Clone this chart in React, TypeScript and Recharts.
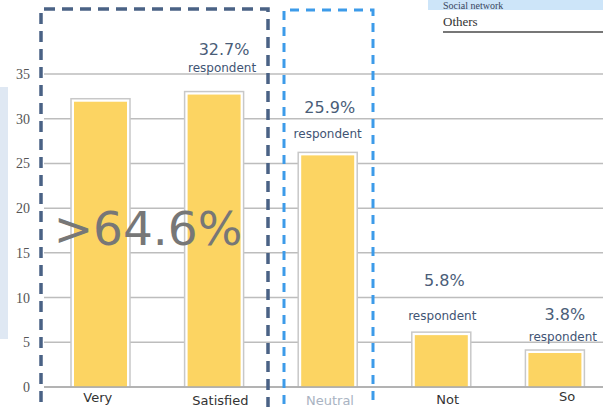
import React from 'react';
import { BarChart, Bar, XAxis, YAxis, CartesianGrid, LabelList } from 'recharts';

const categories = ['Very', 'Satisfied', 'Neutral', 'Not', 'So'];
const values = [31.9, 32.7, 25.9, 5.8, 3.8];
const pctLabels = ['', '32.7%', '25.9%', '5.8%', '3.8%'];
const yTicks = [0, 5, 10, 15, 20, 25, 30, 35];
const unitLabel = 'respondent';
const bigLabel = '>64.6%';
const legendItems = ['Social network', 'Others'];

const data = categories.map((c, i) => ({ name: c, value: values[i], pct: pctLabels[i] }));

// label placement style (offsets relative to bar top / centre)
const labelStyle = [
  { dx: 0, pctUp: 0, respUp: 0 },
  { dx: 10, pctUp: 40, respUp: 23 },
  { dx: 2, pctUp: 42, respUp: 17 },
  { dx: 3, pctUp: 49, respUp: 15 },
  { dx: 10, pctUp: 33, respUp: 12 },
];
const tickStyle = [
  { dx: -3, dy: 15, fill: '#333' },
  { dx: 6, dy: 18, fill: '#333' },
  { dx: 2, dy: 18, fill: '#a9b3c2' },
  { dx: 6, dy: 17, fill: '#333' },
  { dx: 12, dy: 14, fill: '#333' },
];

const BarShape = (props: any) => {
  const { x, y, width, height } = props;
  return (
    <g>
      <rect x={x - 3} y={y - 3} width={width + 6} height={height + 3} fill="#fff" stroke="#c8c8c8" strokeWidth={1.5} />
      <rect x={x} y={y} width={width} height={height} fill="#fcd462" />
    </g>
  );
};

const ValueLabel = (props: any) => {
  const { x, y, width, index } = props;
  const txt = pctLabels[index];
  if (!txt) return null;
  const s = labelStyle[index];
  const cx = x + width / 2 + s.dx;
  return (
    <g>
      <text x={cx} y={y - s.pctUp} textAnchor="middle" fontFamily="DejaVu Sans" fontSize={16} fill="#4a5d78">
        {txt}
      </text>
      <text x={cx - 2} y={y - s.respUp} textAnchor="middle" fontFamily="DejaVu Sans" fontSize={12} fill="#3f5474">
        {unitLabel}
      </text>
    </g>
  );
};

const XTick = (props: any) => {
  const { x, payload, index } = props;
  const s = tickStyle[index] || tickStyle[0];
  return (
    <text x={x + s.dx} y={387 + s.dy} textAnchor="middle" fontFamily="DejaVu Sans" fontSize={13} fill={s.fill}>
      {payload.value}
    </text>
  );
};

const YTick = (props: any) => {
  const { y, payload } = props;
  return (
    <text x={30} y={y + 5} textAnchor="end" fontFamily="Liberation Serif" fontSize={14} fill="#555">
      {payload.value}
    </text>
  );
};

export default function App() {
  return (
    <div style={{ position: 'absolute', left: 0, top: 0, width: 603, height: 407, overflow: 'hidden', background: '#fff' }}>
      <BarChart width={612} height={407} data={data} margin={{ top: 74, right: 0, bottom: 0, left: 0 }}>
        <CartesianGrid vertical={false} stroke="#bdbdbd" strokeWidth={1.5} />
        <YAxis width={44} domain={[0, 35]} ticks={yTicks} axisLine={false} tickLine={false} tick={<YTick />} interval={0} />
        <XAxis dataKey="name" height={20} axisLine={{ stroke: '#aaa', strokeWidth: 1.5 }} tickLine={false} tick={<XTick />} interval={0} />
        <Bar dataKey="value" barSize={53} shape={<BarShape />} isAnimationActive={false}>
          <LabelList dataKey="pct" content={<ValueLabel />} />
        </Bar>
      </BarChart>
      <svg width={603} height={407} style={{ position: 'absolute', left: 0, top: 0, pointerEvents: 'none' }}>
        <rect x={0} y={87} width={8} height={252} fill="#dfe8f3" />
        <rect x={428} y={-5} width={180} height={15} fill="#cde5f9" />
        <text x={443} y={9} fontFamily="Liberation Serif" fontSize={10} fill="#3a4660">{legendItems[0]}</text>
        <text x={443} y={26} fontFamily="Liberation Serif" fontSize={13} fill="#333">{legendItems[1]}</text>
        <line x1={443} y1={32} x2={603} y2={32} stroke="#777" strokeWidth={2} />
        <path d="M41 420 L41 9 L268 9 L268 420" fill="none" stroke="#4a6285" strokeWidth={3.5} strokeDasharray="11 7" />
        <path d="M284 420 L284 10 L373 10 L373 420" fill="none" stroke="#3d9be9" strokeWidth={3} strokeDasharray="9 7" />
        <text x={148} y={245} textAnchor="middle" fontFamily="DejaVu Sans" fontSize={47} fill="#777">{bigLabel}</text>
      </svg>
    </div>
  );
}
